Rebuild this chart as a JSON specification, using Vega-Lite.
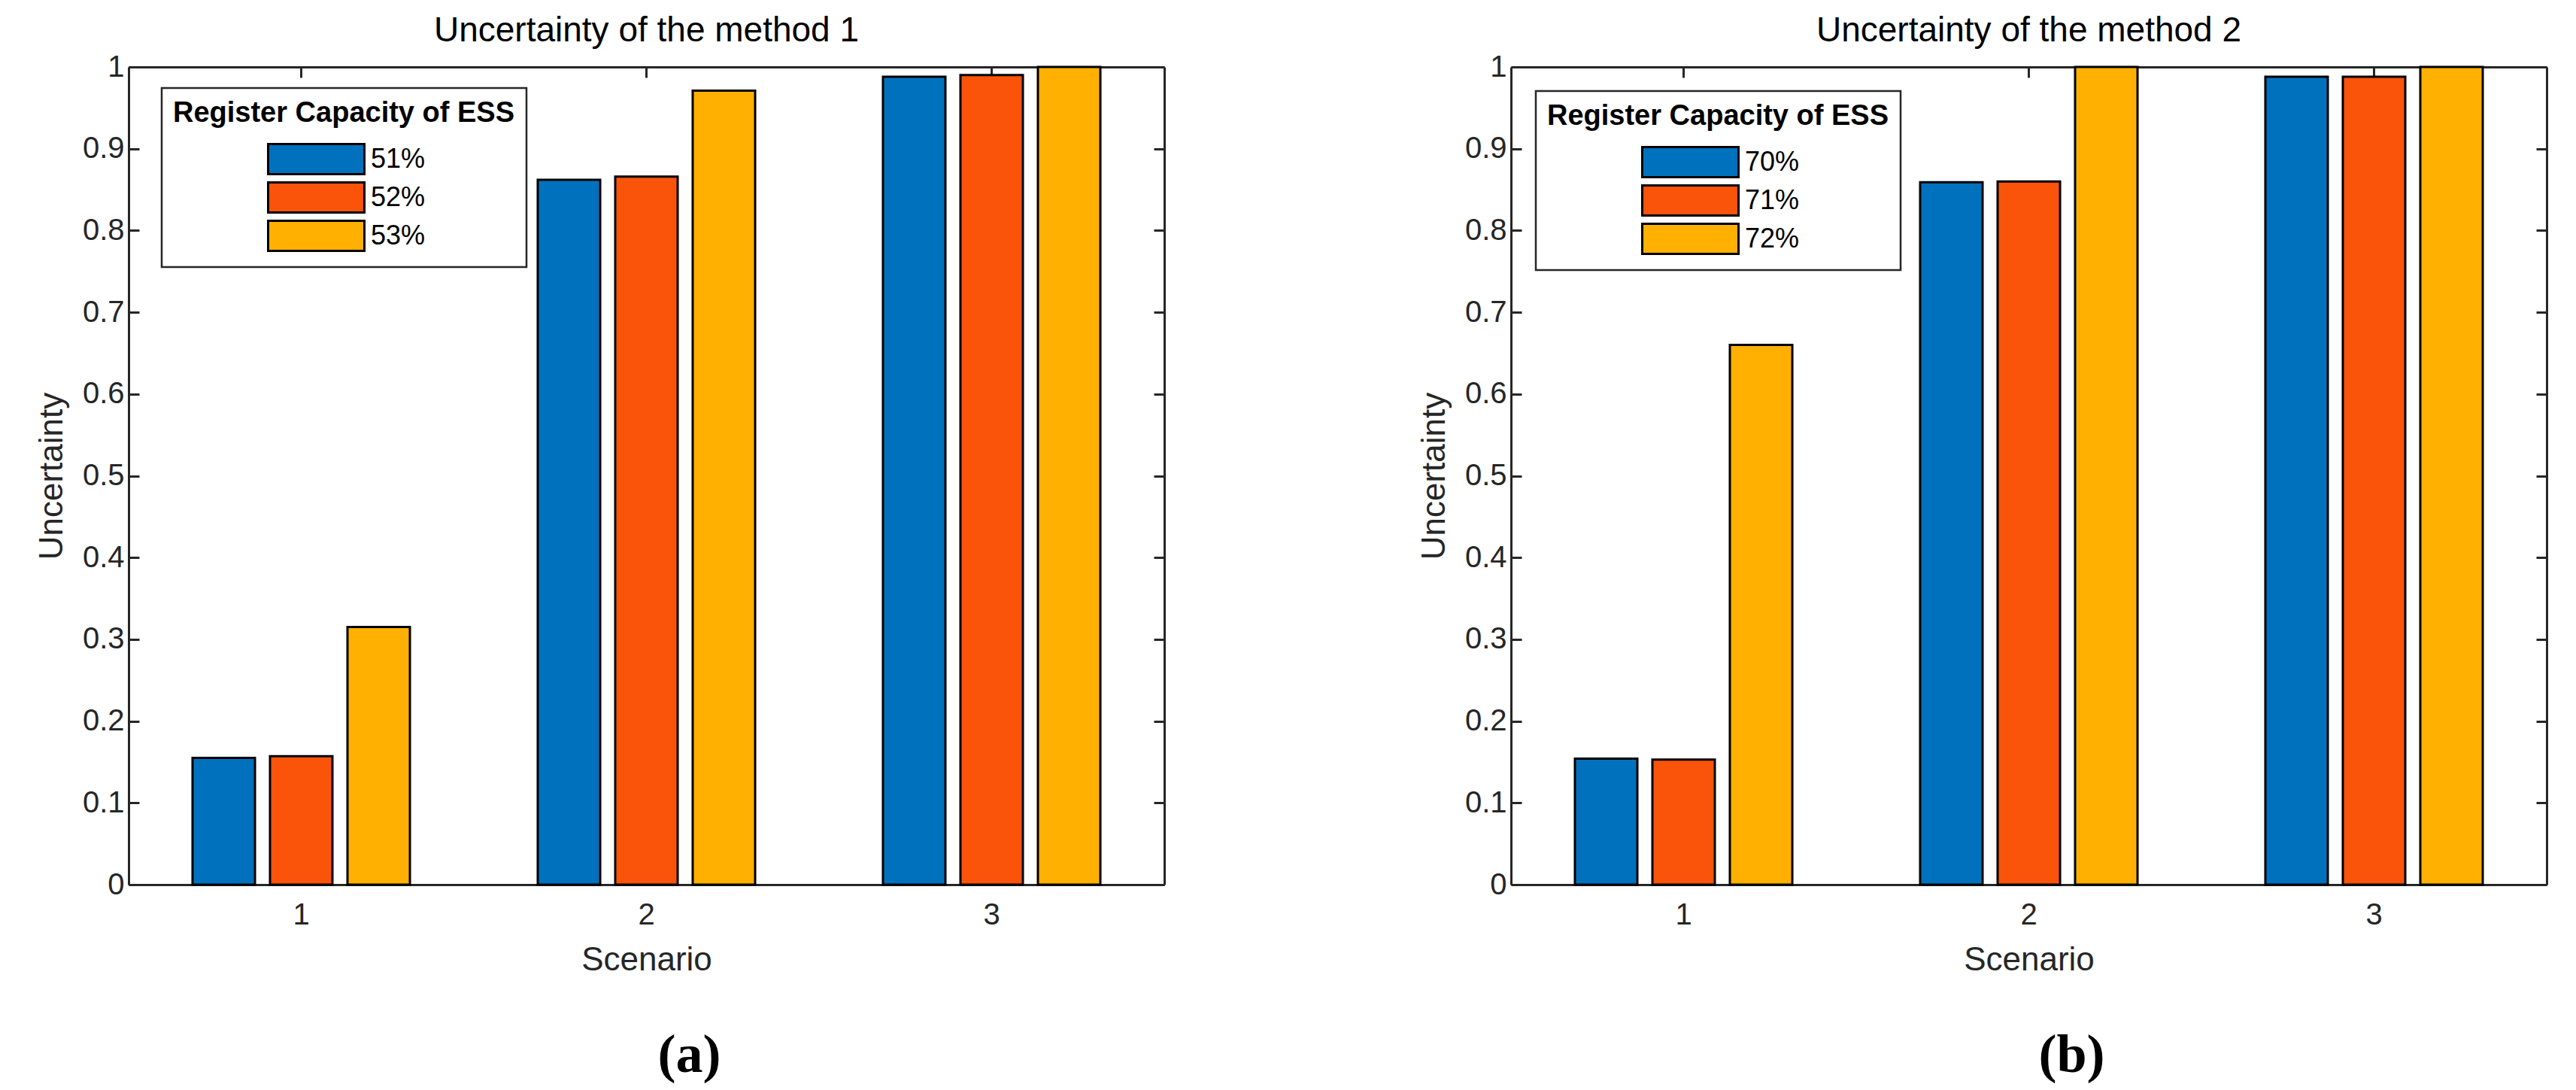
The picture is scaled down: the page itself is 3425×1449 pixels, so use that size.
{
  "$schema": "https://vega.github.io/schema/vega-lite/v6.json",
  "background": "white",
  "padding": {"left": 47, "top": 18, "right": 5, "bottom": 5},
  "datasets": {
    "m1": [
      {"scenario": 1, "capacity": "51%", "uncertainty": 0.155},
      {"scenario": 1, "capacity": "52%", "uncertainty": 0.157},
      {"scenario": 1, "capacity": "53%", "uncertainty": 0.315},
      {"scenario": 2, "capacity": "51%", "uncertainty": 0.862},
      {"scenario": 2, "capacity": "52%", "uncertainty": 0.866},
      {"scenario": 2, "capacity": "53%", "uncertainty": 0.971},
      {"scenario": 3, "capacity": "51%", "uncertainty": 0.988},
      {"scenario": 3, "capacity": "52%", "uncertainty": 0.990},
      {"scenario": 3, "capacity": "53%", "uncertainty": 1.0}
    ],
    "m2": [
      {"scenario": 1, "capacity": "70%", "uncertainty": 0.154},
      {"scenario": 1, "capacity": "71%", "uncertainty": 0.153},
      {"scenario": 1, "capacity": "72%", "uncertainty": 0.66},
      {"scenario": 2, "capacity": "70%", "uncertainty": 0.859},
      {"scenario": 2, "capacity": "71%", "uncertainty": 0.860},
      {"scenario": 2, "capacity": "72%", "uncertainty": 1.0},
      {"scenario": 3, "capacity": "70%", "uncertainty": 0.988},
      {"scenario": 3, "capacity": "71%", "uncertainty": 0.988},
      {"scenario": 3, "capacity": "72%", "uncertainty": 1.0}
    ]
  },
  "config": {
    "view": {"stroke": null},
    "font": "Liberation Sans",
    "axis": {
      "grid": false,
      "domainColor": "#262626",
      "domainWidth": 3,
      "tickColor": "#262626",
      "tickWidth": 3,
      "tickSize": -14,
      "labelColor": "#262626",
      "labelFont": "Liberation Sans",
      "labelFontSize": 40,
      "titleColor": "#262626",
      "titleFont": "Liberation Sans",
      "titleFontSize": 44,
      "titleFontWeight": "normal"
    },
    "legend": {
      "orient": "none",
      "titleFont": "Liberation Sans",
      "titleFontSize": 38,
      "titleFontWeight": "bold",
      "titleColor": "black",
      "titleAnchor": "middle",
      "titleAlign": "center",
      "titleLimit": 2000,
      "titlePadding": 20,
      "labelFont": "Liberation Sans",
      "labelFontSize": 36,
      "labelColor": "black",
      "symbolType": "M-3.2,-1L3.2,-1L3.2,1L-3.2,1Z",
      "symbolSize": 1600,
      "symbolStrokeColor": "black",
      "symbolStrokeWidth": 3,
      "symbolOpacity": 1,
      "symbolOffset": 50,
      "labelOffset": 51,
      "rowPadding": -2,
      "padding": 15,
      "strokeColor": "#262626",
      "fillColor": "white"
    },
    "title": {
      "font": "Liberation Sans",
      "fontSize": 46,
      "fontWeight": "normal",
      "color": "black",
      "offset": 0
    }
  },
  "spacing": 335,
  "resolve": {"scale": {"color": "independent", "xOffset": "independent"}, "legend": {"color": "independent"}},
  "hconcat": [
    {
      "title": {"text": "(a)", "orient": "bottom", "font": "Liberation Serif", "fontSize": 72, "fontWeight": "bold", "color": "black", "anchor": "middle", "frame": "bounds", "dx": 118, "offset": 70},
      "resolve": {"scale": {"color": "independent", "xOffset": "independent"}, "legend": {"color": "independent"}},
      "hconcat": [
        {
          "title": {"text": "Uncertainty of the method 1", "frame": "group", "anchor": "middle"},
          "width": 1377,
          "height": 1087,
          "data": {"name": "m1"},
          "resolve": {"axis": {"x": "independent", "y": "independent"}},
          "layer": [
            {
              "mark": {"type": "bar", "stroke": "black", "strokeWidth": 3},
              "encoding": {
                "x": {"field": "scenario", "type": "ordinal", "scale": {"paddingInner": 0, "paddingOuter": 0},
                      "axis": {"orient": "bottom", "title": "Scenario", "labelAngle": 0, "labelPadding": 34, "titlePadding": 18}},
                "xOffset": {"field": "capacity", "type": "nominal", "scale": {"paddingInner": 0.194, "paddingOuter": 0.825}},
                "y": {"field": "uncertainty", "type": "quantitative", "scale": {"domain": [0, 1], "nice": false},
                      "axis": {"orient": "left", "title": "Uncertainty", "values": [0, 0.1, 0.2, 0.3, 0.4, 0.5, 0.6, 0.7, 0.8, 0.9, 1], "format": "~g", "labelPadding": 20, "titlePadding": 18}},
                "color": {"field": "capacity", "type": "nominal", "scale": {"range": ["#0072BD", "#FA530A", "#FFB000"]},
                          "legend": {"title": "Register Capacity of ESS", "legendX": 44, "legendY": 28,
                                     "encode": {"legend": {"update": {"strokeWidth": {"value": 2.5}}}}}}
              }
            },
            {
              "mark": {"type": "bar", "opacity": 0},
              "encoding": {
                "x": {"field": "scenario", "type": "ordinal", "axis": {"orient": "top", "title": null, "labels": false}},
                "xOffset": {"field": "capacity", "type": "nominal"},
                "y": {"field": "uncertainty", "type": "quantitative",
                      "axis": {"orient": "right", "title": null, "labels": false, "values": [0, 0.1, 0.2, 0.3, 0.4, 0.5, 0.6, 0.7, 0.8, 0.9, 1]}}
              }
            }
          ]
        }
      ]
    },
    {
      "title": {"text": "(b)", "orient": "bottom", "font": "Liberation Serif", "fontSize": 72, "fontWeight": "bold", "color": "black", "anchor": "middle", "frame": "bounds", "dx": 118, "offset": 70},
      "resolve": {"scale": {"color": "independent", "xOffset": "independent"}, "legend": {"color": "independent"}},
      "hconcat": [
        {
          "title": {"text": "Uncertainty of the method 2", "frame": "group", "anchor": "middle"},
          "width": 1377,
          "height": 1087,
          "data": {"name": "m2"},
          "resolve": {"axis": {"x": "independent", "y": "independent"}},
          "layer": [
            {
              "mark": {"type": "bar", "stroke": "black", "strokeWidth": 3},
              "encoding": {
                "x": {"field": "scenario", "type": "ordinal", "scale": {"paddingInner": 0, "paddingOuter": 0},
                      "axis": {"orient": "bottom", "title": "Scenario", "labelAngle": 0, "labelPadding": 34, "titlePadding": 18}},
                "xOffset": {"field": "capacity", "type": "nominal", "scale": {"paddingInner": 0.194, "paddingOuter": 0.825}},
                "y": {"field": "uncertainty", "type": "quantitative", "scale": {"domain": [0, 1], "nice": false},
                      "axis": {"orient": "left", "title": "Uncertainty", "values": [0, 0.1, 0.2, 0.3, 0.4, 0.5, 0.6, 0.7, 0.8, 0.9, 1], "format": "~g", "labelPadding": 20, "titlePadding": 18}},
                "color": {"field": "capacity", "type": "nominal", "scale": {"range": ["#0072BD", "#FA530A", "#FFB000"]},
                          "legend": {"title": "Register Capacity of ESS", "legendX": 33, "legendY": 32,
                                     "encode": {"legend": {"update": {"strokeWidth": {"value": 2.5}}}}}}
              }
            },
            {
              "mark": {"type": "bar", "opacity": 0},
              "encoding": {
                "x": {"field": "scenario", "type": "ordinal", "axis": {"orient": "top", "title": null, "labels": false}},
                "xOffset": {"field": "capacity", "type": "nominal"},
                "y": {"field": "uncertainty", "type": "quantitative",
                      "axis": {"orient": "right", "title": null, "labels": false, "values": [0, 0.1, 0.2, 0.3, 0.4, 0.5, 0.6, 0.7, 0.8, 0.9, 1]}}
              }
            }
          ]
        }
      ]
    }
  ]
}
